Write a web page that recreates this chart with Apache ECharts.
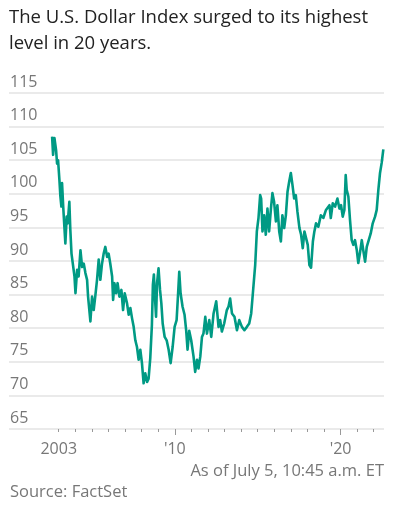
<!DOCTYPE html>
<html>
<head>
<meta charset="utf-8">
<script src="https://cdn.jsdelivr.net/npm/echarts@6/dist/echarts.min.js"></script>
<style>
    html, body { margin: 0; padding: 0; background: #fff; }
    #chart { width: 397px; height: 517px; }
</style>
</head>
<body>
<div id="chart"></div>
<script>
    // 美元指数，按年份（小数）读取
    var years = [
        2002.60, 2002.66, 2002.74, 2002.84, 2002.90, 2002.96, 2003.04, 2003.10, 2003.16, 2003.20,
        2003.27, 2003.34, 2003.40, 2003.48, 2003.54, 2003.64, 2003.70, 2003.77, 2003.84, 2003.95,
        2004.01, 2004.11, 2004.20, 2004.31, 2004.41, 2004.51, 2004.61, 2004.71, 2004.77, 2004.91,
        2005.01, 2005.11, 2005.21, 2005.31, 2005.41, 2005.51, 2005.61, 2005.71, 2005.81, 2005.92,
        2006.01, 2006.11, 2006.22, 2006.28, 2006.36, 2006.46, 2006.55, 2006.66, 2006.78, 2006.88,
        2006.98, 2007.12, 2007.22, 2007.32, 2007.42, 2007.52, 2007.62, 2007.72, 2007.82, 2007.92,
        2008.02, 2008.12, 2008.22, 2008.33, 2008.42, 2008.52, 2008.62, 2008.68, 2008.74, 2008.79,
        2008.87, 2008.93, 2009.02, 2009.11, 2009.19, 2009.27, 2009.39, 2009.51, 2009.63, 2009.75,
        2009.87, 2009.99, 2010.11, 2010.19, 2010.27, 2010.35, 2010.47, 2010.59, 2010.69, 2010.77,
        2010.87, 2010.99, 2011.13, 2011.23, 2011.34, 2011.43, 2011.54, 2011.64, 2011.73, 2011.84,
        2011.94, 2012.08, 2012.20, 2012.34, 2012.50, 2012.64, 2012.74, 2012.84, 2012.98, 2013.14,
        2013.24, 2013.34, 2013.45, 2013.60, 2013.75, 2013.89, 2014.05, 2014.20, 2014.35, 2014.49,
        2014.61, 2014.71, 2014.81, 2014.85, 2014.95, 2015.05, 2015.15, 2015.21, 2015.29, 2015.39,
        2015.49, 2015.59, 2015.69, 2015.80, 2015.89, 2015.99, 2016.10, 2016.19, 2016.30, 2016.40,
        2016.49, 2016.60, 2016.70, 2016.80, 2016.90, 2017.00, 2017.10, 2017.20, 2017.30, 2017.40,
        2017.52, 2017.62, 2017.72, 2017.82, 2017.92, 2018.02, 2018.12, 2018.22, 2018.33, 2018.42,
        2018.52, 2018.66, 2018.81, 2018.96, 2019.12, 2019.33, 2019.41, 2019.53, 2019.67, 2019.81,
        2019.93, 2020.03, 2020.13, 2020.23, 2020.31, 2020.37, 2020.47, 2020.57, 2020.67, 2020.77,
        2020.87, 2020.98, 2021.07, 2021.17, 2021.28, 2021.37, 2021.48, 2021.58, 2021.70, 2021.82,
        2021.94, 2022.08, 2022.18, 2022.28, 2022.38, 2022.48, 2022.58
    ];
    var values = [
        108.5, 105.8, 108.3, 106.5, 104.5, 105.0, 102.1, 99.6, 98.1, 101.6,
        98.1, 95.1, 92.6, 96.6, 95.6, 98.8, 94.6, 91.1, 91.1, 87.7,
        85.2, 88.7, 87.7, 91.6, 89.1, 89.6, 88.2, 87.2, 84.7, 81.0,
        84.7, 82.7, 84.9, 87.2, 90.2, 87.2, 89.6, 91.1, 92.1, 90.6,
        91.1, 89.6, 87.7, 84.2, 86.7, 85.2, 86.7, 84.7, 85.7, 82.7,
        85.2, 83.7, 82.0, 83.0, 81.5, 80.2, 78.2, 77.2, 75.3, 76.8,
        74.8, 71.8, 73.3, 72.0, 72.5, 75.5, 80.5, 86.5, 88.0, 85.2,
        81.7, 86.7, 88.9, 85.7, 83.7, 80.7, 78.7, 78.2, 76.8, 74.8,
        77.2, 80.2, 81.2, 84.7, 88.4, 85.2, 83.2, 82.0, 79.6, 76.8,
        79.6, 78.2, 75.8, 73.5, 75.3, 74.0, 75.8, 78.7, 79.2, 81.7,
        79.2, 81.2, 78.7, 82.2, 84.0, 80.2, 81.2, 79.5, 80.7, 82.7,
        83.2, 84.4, 82.2, 81.7, 79.7, 81.2, 80.2, 79.7, 80.2, 80.7,
        82.2, 85.2, 88.2, 89.4, 94.4, 96.4, 99.8, 99.3, 94.4, 96.8,
        93.9, 97.8, 94.4, 97.8, 100.1, 98.8, 95.9, 98.3, 94.4, 92.9,
        96.8, 94.9, 96.8, 100.3, 101.8, 103.1, 101.3, 99.3, 99.8, 97.3,
        94.9, 93.9, 91.9, 94.4, 93.4, 92.4, 89.4, 89.0, 92.9, 94.4,
        95.6, 95.1, 96.8, 96.4, 97.6, 98.3, 96.4, 98.6, 98.1, 99.3,
        97.8, 98.3, 96.6, 97.6, 102.8, 100.6, 99.6, 96.1, 93.1, 92.4,
        93.1, 91.6, 89.7, 91.2, 93.1, 91.6, 89.9, 92.1, 93.1, 94.1,
        95.6, 96.6, 97.6, 100.6, 103.1, 104.6, 106.6
    ];
    var tickYears = [2003, 2004, 2005, 2006, 2007, 2008, 2009, 2010, 2011, 2012,
        2013, 2014, 2015, 2016, 2017, 2018, 2019, 2020, 2021, 2022];
    var majorTickYears = [2010, 2020];
    var labelYears = [2003, 2010, 2020];
    var yearLabels = ['2003', "'10", "'20"];

    var fontFamily = '"Open Sans", sans-serif';
    var myChart = echarts.init(document.getElementById('chart'));

    var option = {
        backgroundColor: '#fff',
        animation: false,
        title: {
            text: 'The U.S. Dollar Index surged to its highest\nlevel in 20 years.',
            left: 9,
            top: 0,
            padding: [4, 0, 0, 0],
            textStyle: {
                color: '#222',
                fontFamily: fontFamily,
                fontSize: 18.5,
                fontWeight: 'normal',
                lineHeight: 26.5
            }
        },
        graphic: [
            {
                type: 'text',
                right: 13,
                top: 463,
                style: {
                    text: 'As of July 5, 10:45 a.m. ET',
                    fill: '#777',
                    font: '16.5px ' + fontFamily
                }
            },
            {
                type: 'text',
                left: 10,
                top: 484,
                style: {
                    text: 'Source: FactSet',
                    fill: '#777',
                    font: '16.5px ' + fontFamily
                }
            }
        ],
        grid: {
            left: 9,
            right: 13,
            top: 93,
            bottom: 88
        },
        xAxis: [
            {
                type: 'value',
                min: 2000,
                max: 2022.62,
                axisLine: { show: false },
                splitLine: { show: false },
                axisTick: {
                    show: true,
                    customValues: tickYears,
                    length: 3,
                    lineStyle: { color: '#999', width: 1 }
                },
                axisLabel: {
                    customValues: labelYears,
                    margin: 12,
                    color: '#777',
                    fontFamily: fontFamily,
                    fontSize: 16,
                    formatter: function (v) {
                        var i = labelYears.indexOf(Math.round(v));
                        return i >= 0 ? yearLabels[i] : '';
                    }
                }
            },
            {
                type: 'value',
                position: 'bottom',
                min: 2000,
                max: 2022.62,
                axisLine: { show: false },
                splitLine: { show: false },
                axisTick: {
                    show: true,
                    customValues: majorTickYears,
                    length: 6,
                    lineStyle: { color: '#999', width: 1 }
                },
                axisLabel: { show: false }
            }
        ],
        yAxis: {
            type: 'value',
            min: 65,
            max: 115,
            interval: 5,
            axisLine: { show: false },
            axisTick: { show: false },
            splitLine: {
                lineStyle: { color: '#e3e3e3', width: 1.5 }
            },
            axisLabel: {
                inside: true,
                margin: 1,
                align: 'left',
                verticalAlign: 'bottom',
                padding: [0, 0, 3, 0],
                color: '#777',
                fontFamily: fontFamily,
                fontSize: 16
            }
        },
        series: [
            {
                type: 'line',
                data: years.map(function (y, i) { return [y, values[i]]; }),
                showSymbol: false,
                lineStyle: { color: '#009a84', width: 2.6, join: 'round' },
                z: 3
            }
        ]
    };
    myChart.setOption(option);
</script>
</body>
</html>
